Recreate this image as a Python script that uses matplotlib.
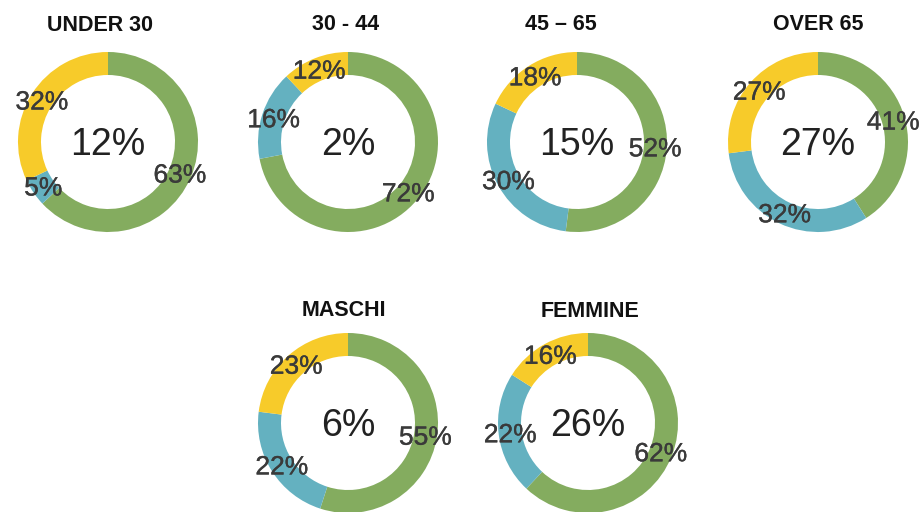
import matplotlib
matplotlib.use("Agg")
import matplotlib.pyplot as plt
import matplotlib.patheffects as pe

# ---- data ------------------------------------------------------------------
groups = ["UNDER 30", "30 - 44", "45 – 65", "OVER 65", "MASCHI", "FEMMINE"]
center_values = ["12%", "2%", "15%", "27%", "6%", "26%"]
green_share = [63, 72, 52, 41, 55, 62]
blue_share = [5, 16, 30, 32, 22, 22]
yellow_share = [32, 12, 18, 27, 23, 16]

COLORS = ["#84ac5f", "#64b1c0", "#f7cb2a"]

# ---- layout (pixels, image coords: y down) ---------------------------------
W, H = 923, 512
centers = [(108, 142), (348, 142), (577, 142), (818, 142), (348, 423), (588, 423)]
title_pos = [(100, 23), (346, 22), (561, 22), (818, 22), (344, 308), (590, 309)]
R_OUT, RING = 90, 23
FONT = ["Liberation Sans", "DejaVu Sans"]

LABEL_PT, CENTER_PT, TITLE_PT = 19, 27, 15.5
cap = lambda pt: pt * 100 / 72 * 0.716   # cap height in px at 100 dpi

fig = plt.figure(figsize=(W / 100, H / 100), dpi=100)
ax = fig.add_axes([0, 0, 1, 1])

for i, name in enumerate(groups):
    cx, cy = centers[i]
    vals = [green_share[i], blue_share[i], yellow_share[i]]
    wedges, _, autotexts = ax.pie(
        vals, colors=COLORS, center=(cx, H - cy), radius=R_OUT,
        startangle=90, counterclock=False,
        wedgeprops=dict(width=RING, linewidth=0),
        autopct=lambda p: f"{p:.0f}%", pctdistance=0.87,
        textprops=dict(fontsize=LABEL_PT, color="#3a3a3a", family=FONT),
        frame=True,
    )
    for t in autotexts:
        x, y = t.get_position()
        t.set_position((x, y - cap(LABEL_PT) / 2))
        t.set_va("baseline")
        t.set_ha("center")
        t.set_path_effects([pe.withStroke(linewidth=0.25, foreground="#3a3a3a")])
    ax.text(cx, H - cy - cap(CENTER_PT) / 2, center_values[i], ha="center",
            va="baseline", fontsize=CENTER_PT, color="#222222", family=FONT)
    tx, ty = title_pos[i]
    ax.text(tx, H - ty - cap(TITLE_PT) / 2, name, ha="center", va="baseline",
            fontsize=TITLE_PT, fontweight="bold", color="#111111", family=FONT)

ax.set_xlim(0, W)
ax.set_ylim(0, H)
ax.set_aspect("equal")
ax.axis("off")

fig.savefig("out.png", dpi=100, facecolor="white")
